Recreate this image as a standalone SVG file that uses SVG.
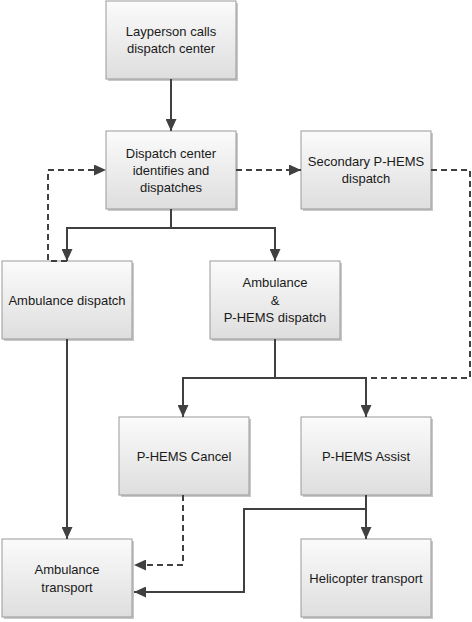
<svg xmlns="http://www.w3.org/2000/svg" width="472" height="622" viewBox="0 0 472 622">
<style>
.box{fill:url(#g);stroke:#9a9a9a;stroke-width:1}
.sh{fill:#c8c8c8}
.t{font-family:"Liberation Sans",Arial,sans-serif;font-size:13px;fill:#1a1a1a;text-anchor:middle;dominant-baseline:central}
.c{fill:none;stroke:#404040;stroke-width:2}
.d{stroke-dasharray:6 4}
</style>
<defs>
<linearGradient id="g" x1="0" y1="0" x2="0" y2="1">
<stop offset="0" stop-color="#fbfbfb"/>
<stop offset="1" stop-color="#dedede"/>
</linearGradient>
<marker id="a" viewBox="0 0 12 11" refX="12" refY="5.5" markerWidth="12" markerHeight="11" markerUnits="userSpaceOnUse" orient="auto">
<path d="M0,0 L12,5.5 L0,11 z" fill="#404040"/>
</marker>
</defs>
<g id="n1"><rect class="sh" x="108" y="3" width="130" height="78"/><rect class="box" x="106" y="1" width="130" height="78"/><text class="t" x="171" y="31">Layperson calls</text><text class="t" x="171" y="48">dispatch center</text></g>
<g id="n2"><rect class="sh" x="108" y="133" width="130" height="78"/><rect class="box" x="106" y="131" width="130" height="78"/><text class="t" x="171" y="153">Dispatch center</text><text class="t" x="171" y="170">identifies and</text><text class="t" x="171" y="187">dispatches</text></g>
<g id="n3"><rect class="sh" x="303" y="133" width="130" height="78"/><rect class="box" x="301" y="131" width="130" height="78"/><text class="t" x="366" y="161">Secondary P-HEMS</text><text class="t" x="366" y="178">dispatch</text></g>
<g id="n4"><rect class="sh" x="4" y="263" width="130" height="78"/><rect class="box" x="2" y="261" width="130" height="78"/><text class="t" x="67" y="300">Ambulance dispatch</text></g>
<g id="n5"><rect class="sh" x="212" y="263" width="130" height="78"/><rect class="box" x="210" y="261" width="130" height="78"/><text class="t" x="275" y="282">Ambulance</text><text class="t" x="275" y="300">&amp;</text><text class="t" x="275" y="317">P-HEMS dispatch</text></g>
<g id="n6"><rect class="sh" x="121" y="419" width="130" height="78"/><rect class="box" x="119" y="417" width="130" height="78"/><text class="t" x="184" y="456">P-HEMS Cancel</text></g>
<g id="n7"><rect class="sh" x="303" y="419" width="130" height="78"/><rect class="box" x="301" y="417" width="130" height="78"/><text class="t" x="366" y="456">P-HEMS Assist</text></g>
<g id="n8"><rect class="sh" x="4" y="541" width="130" height="78"/><rect class="box" x="2" y="539" width="130" height="78"/><text class="t" x="67" y="569">Ambulance</text><text class="t" x="67" y="587">transport</text></g>
<g id="n9"><rect class="sh" x="303" y="541" width="130" height="78"/><rect class="box" x="301" y="539" width="130" height="78"/><text class="t" x="366" y="578">Helicopter transport</text></g>
<g id="connectors">
<path class="c" d="M171,79 V131" marker-end="url(#a)"/>
<path class="c" d="M171,209 V228 H67 V261" marker-end="url(#a)"/>
<path class="c" d="M171,228 H275 V261" marker-end="url(#a)"/>
<path class="c d" d="M67,261 H48 V170 H106" marker-end="url(#a)"/>
<path class="c d" d="M236,170 H301" marker-end="url(#a)"/>
<path class="c d" d="M431,170 H470 V378 H367"/>
<path class="c" d="M275,339 V378 H183 V417" marker-end="url(#a)"/>
<path class="c" d="M275,378 H366 V417" marker-end="url(#a)"/>
<path class="c" d="M67,339 V539" marker-end="url(#a)"/>
<path class="c d" d="M183,495 V565 H134" marker-end="url(#a)"/>
<path class="c" d="M366,495 V539" marker-end="url(#a)"/>
<path class="c" d="M366,509 H244 V592 H134" marker-end="url(#a)"/>
</g>
</svg>
